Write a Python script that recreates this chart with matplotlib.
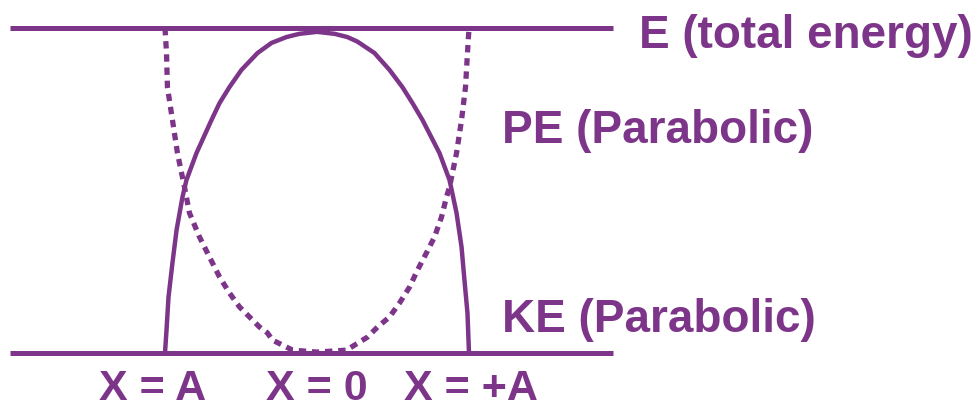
import matplotlib
matplotlib.use("Agg")
import matplotlib.pyplot as plt

# energy curves of a simple harmonic oscillator
# x is displacement in units of A, y is energy as a fraction of E
ke_x = [-1.0, -0.99, -0.977, -0.951, -0.924, -0.885, -0.859, -0.793, -0.694, -0.641,
        -0.576, -0.497, -0.391, -0.299, -0.201, -0.115, 0.0, 0.115, 0.2, 0.266,
        0.378, 0.477, 0.562, 0.628, 0.694, 0.806, 0.872, 0.918, 0.951, 0.97, 0.99, 1.0]
ke_y = [0.0, 0.071, 0.172, 0.277, 0.378, 0.48, 0.532, 0.615, 0.717, 0.769,
        0.818, 0.871, 0.923, 0.954, 0.972, 0.982, 0.988, 0.982, 0.972, 0.958,
        0.923, 0.871, 0.818, 0.769, 0.717, 0.615, 0.532, 0.431, 0.326, 0.225, 0.123, 0.0]

pe_x = [-1.0, -0.99, -0.984, -0.951, -0.918, -0.872, -0.839, -0.773, -0.707, -0.641,
        -0.576, -0.51, -0.444, -0.378, -0.326, -0.293, -0.161, 0.0, 0.194, 0.332,
        0.398, 0.477, 0.543, 0.609, 0.661, 0.72, 0.773, 0.819, 0.852, 0.872, 0.918,
        0.951, 0.977, 0.99, 1.0]
pe_y = [1.0, 0.923, 0.818, 0.717, 0.615, 0.511, 0.431, 0.357, 0.295, 0.234,
        0.185, 0.142, 0.111, 0.08, 0.062, 0.04, 0.009, 0.003, 0.009, 0.049,
        0.08, 0.111, 0.154, 0.203, 0.255, 0.308, 0.357, 0.418, 0.48, 0.511, 0.615,
        0.717, 0.818, 0.923, 1.0]

total_energy = 1.0
level_x = [-2.02, 1.95]

tick_pos = [-1.08, 0.0, 1.01]
tick_labels = ["X = A", "X = 0", "X = +A"]

purple = "#7d3589"
plt.rcParams['font.family'] = ['Liberation Sans', 'DejaVu Sans']

fig = plt.figure(figsize=(9.75, 4.08), dpi=100)
ax = fig.add_axes([0, 0, 1, 1])

# total energy line and zero line
ax.plot(level_x, [total_energy, total_energy], color=purple, lw=3.6, solid_capstyle='butt')
ax.plot(level_x, [0, 0], color=purple, lw=3.6, solid_capstyle='butt')

# KE solid, PE dotted
ax.plot(ke_x, ke_y, color=purple, lw=3.2, solid_joinstyle='round')
ax.plot(pe_x, pe_y, color=purple, lw=3.8, linestyle=(0, (1.4, 1.1)), dash_capstyle='butt')

txt = dict(color=purple, fontsize=33, fontweight='bold', va='baseline')
ax.text(2.12, 0.938, "E (total energy)", ha='left', **txt)
ax.text(1.22, 0.646, "PE (Parabolic)", ha='left', **txt)
ax.text(1.22, 0.065, "KE (Parabolic)", ha='left', **txt)
for p, lab in zip(tick_pos, tick_labels):
    ax.text(p, -0.144, lab, ha='center', color=purple, fontsize=31, fontweight='bold', va='baseline')

ax.set_xlim(-2.0855, 4.329)
ax.set_ylim(-0.169, 1.086)
ax.axis('off')

fig.savefig("out.png", dpi=100)
